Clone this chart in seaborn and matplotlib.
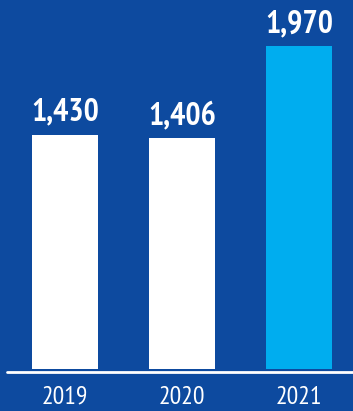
import matplotlib
matplotlib.use("Agg")
import matplotlib.pyplot as plt
import seaborn as sns
import pandas as pd

years = ["2019", "2020", "2021"]
values = [1430, 1406, 1970]
bar_colors = ["#ffffff", "#ffffff", "#00adef"]

BG = "#0d4a9f"
FONT = ["PT Sans Narrow", "Fira Sans Condensed", "DejaVu Sans"]

sns.set_theme(style="white")
plt.rcParams["font.family"] = FONT

df = pd.DataFrame({"year": years, "value": values})

fig = plt.figure(figsize=(3.53, 4.11), dpi=100, facecolor=BG)
ax = fig.add_axes([0, 42 / 411, 1, 327 / 411])
ax.set_facecolor(BG)

sns.barplot(data=df, x="year", y="value", hue="year", palette=bar_colors,
            width=66 / 117, saturation=1, legend=False, linewidth=0, ax=ax)

ax.set_xlim(-65 / 117, (353 - 65) / 117)
ax.set_ylim(0, 1970 * 327 / 323)

# value labels above each bar
for i, v in enumerate(values):
    ax.annotate(f"{v:,}", (i, v), xytext=(0, 10), textcoords="offset points",
                ha="center", va="baseline", color="white", fontsize=23,
                fontweight="bold", family=FONT)

# baseline rule
ax.axhline(-1970 / 323 * 3, xmin=7 / 353, xmax=1, color="white", lw=2, clip_on=False)

for s in ax.spines.values():
    s.set_visible(False)
ax.set_yticks([])
ax.set_xlabel("")
ax.set_ylabel("")
ax.tick_params(axis="x", length=0, pad=12, labelsize=18.5, labelcolor="white")
for lbl in ax.get_xticklabels():
    lbl.set_family(FONT)

fig.savefig("out.png", dpi=100, facecolor=BG)
